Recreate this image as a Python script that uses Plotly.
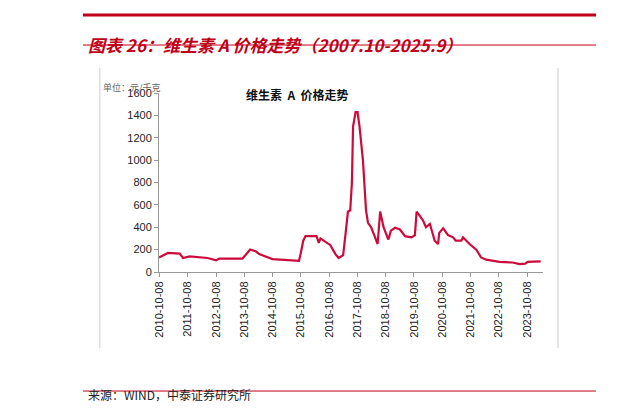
import pandas as pd
import plotly.graph_objects as go

# decimal-year positions and prices (元/千克)
yearPos = [2010.75, 2011.07, 2011.48, 2011.6, 2011.83, 2012.47, 2012.77, 2012.88, 2013.7, 2013.97,
           2014.17, 2014.29, 2014.76, 2015.29, 2015.7, 2015.76, 2015.85, 2015.93, 2016.32, 2016.4,
           2016.46, 2016.81, 2016.99, 2017.1, 2017.26, 2017.34, 2017.43, 2017.51, 2017.57, 2017.61,
           2017.7, 2017.77, 2017.84, 2017.96, 2018.02, 2018.07, 2018.14, 2018.25, 2018.36, 2018.48,
           2018.57, 2018.69, 2018.86, 2018.95, 2019.1, 2019.27, 2019.45, 2019.68, 2019.8, 2019.86,
           2019.98, 2020.09, 2020.19, 2020.33, 2020.5, 2020.62, 2020.66, 2020.8, 2020.97, 2021.15,
           2021.24, 2021.44, 2021.5, 2021.73, 2021.97, 2022.14, 2022.32, 2022.79, 2023.26, 2023.5,
           2023.7, 2023.79, 2024.25]
price = [130, 170, 165, 125, 140, 125, 105, 120, 120, 200,
         185, 160, 115, 110, 100, 165, 280, 320, 320, 260,
         300, 240, 160, 125, 150, 330, 540, 550, 800, 1300,
         1430, 1430, 1300, 1000, 700, 550, 440, 400, 330, 250,
         540, 400, 290, 370, 395, 380, 320, 310, 330, 540,
         500, 460, 400, 430, 280, 250, 350, 390, 330, 310,
         280, 280, 310, 250, 200, 130, 110, 90, 85, 70,
         75, 90, 95]
tickDates = [f"{y}-10-08" for y in range(2010, 2024)]

def toDate(y):
    yr = int(y)
    return pd.Timestamp(yr, 1, 1) + pd.Timedelta(days=(y - yr) * 365.25)

dates = [toDate(y) for y in yearPos]
red = "#c00018"

fig = go.Figure()
fig.add_trace(go.Scatter(x=dates, y=price, mode="lines", line=dict(color="#cc0a3c", width=2.2)))

fig.update_layout(
    width=621, height=415, showlegend=False,
    plot_bgcolor="white", paper_bgcolor="white",
    margin=dict(l=151, r=86, t=85, b=151),
    font=dict(family="Liberation Sans, Arial", size=11, color="#222"),
    xaxis=dict(range=["2010-10-01", "2024-05-01"], tickvals=tickDates, ticktext=tickDates,
               tickangle=-90, showgrid=False, showline=True, linecolor="#999",
               ticks="outside", ticklen=4, tickcolor="#999"),
    yaxis=dict(range=[0, 1600], dtick=200, showgrid=False, showline=True, linecolor="#999",
               ticks="outside", ticklen=4, tickcolor="#999"),
)

# framing lines and texts
for xx in (-0.154, 1.039):
    fig.add_shape(type="line", xref="paper", yref="paper", x0=xx, x1=xx, y0=-0.425, y1=1.14,
                  line=dict(color="#ccc", width=1))
fig.add_shape(type="line", xref="paper", yref="paper", x0=-0.198, x1=1.138, y0=1.436, y1=1.436,
              line=dict(color=red, width=3))
fig.add_shape(type="line", xref="paper", yref="paper", x0=-0.198, x1=1.138, y0=1.268, y1=1.268,
              line=dict(color=red, width=1))
fig.add_shape(type="line", xref="paper", yref="paper", x0=-0.198, x1=1.138, y0=-0.665, y1=-0.665,
              line=dict(color=red, width=1))

fig.add_annotation(xref="paper", yref="paper", x=-0.19, y=1.352, xanchor="left", showarrow=False,
                   text="<b><i>图表 26：维生素 A 价格走势（2007.10-2025.9）</i></b>",
                   font=dict(size=17, color=red, family="Noto Sans CJK SC"))
fig.add_annotation(xref="paper", yref="paper", x=0.36, y=1.05, showarrow=False,
                   text="<b>维生素  A  价格走势</b>", font=dict(size=12, color="#111", family="Noto Sans CJK SC"))
fig.add_annotation(xref="paper", yref="paper", x=-0.15, y=1.08, xanchor="left", showarrow=False,
                   text="单位：元/千克", font=dict(size=9, color="#666", family="Noto Sans CJK SC"))
fig.add_annotation(xref="paper", yref="paper", x=-0.19, y=-0.743, xanchor="left", showarrow=False,
                   text="来源：WIND，中泰证券研究所", font=dict(size=12, color="#222", family="Noto Sans CJK SC"))

fig.write_html("out.html")
